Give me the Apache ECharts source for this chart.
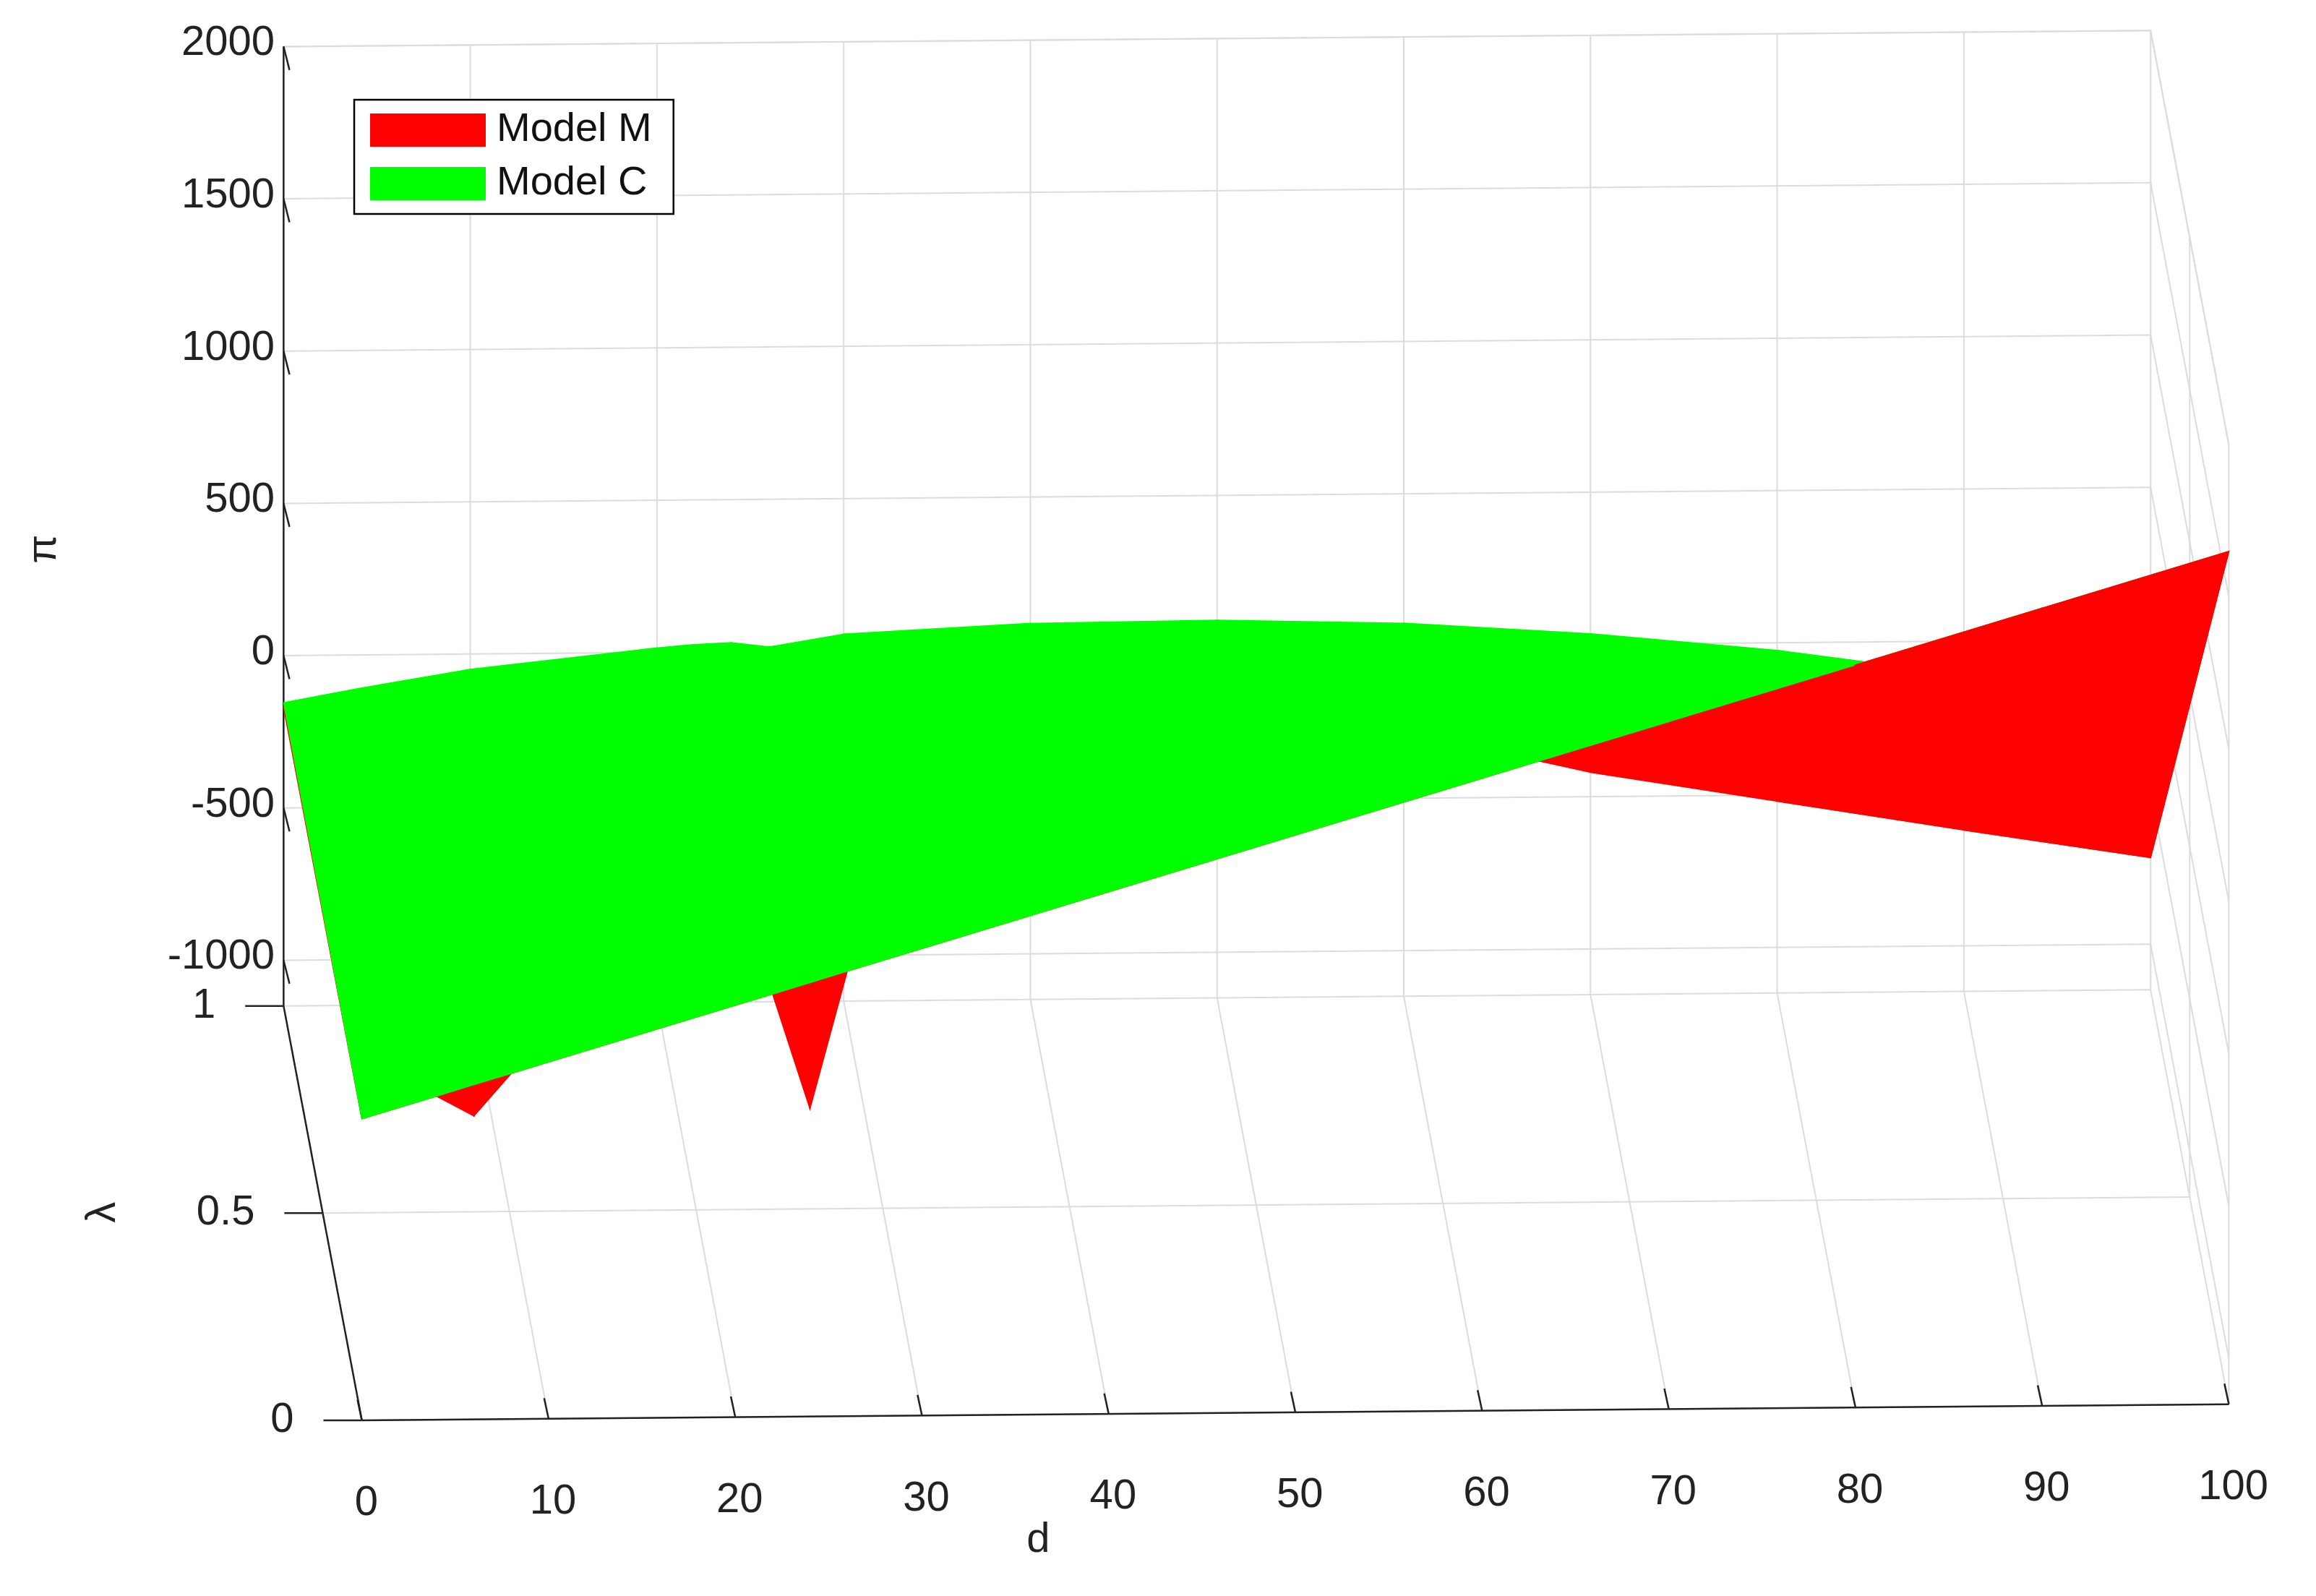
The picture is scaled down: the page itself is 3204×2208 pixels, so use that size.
<!DOCTYPE html>
<html>
<head>
<meta charset="utf-8">
<script src="https://cdn.jsdelivr.net/npm/echarts@6/dist/echarts.min.js"></script>
<style>html,body{margin:0;padding:0;background:#fff}#chart{width:3204px;height:2208px}</style>
</head>
<body>
<div id="chart"></div>
<script>
// data
var dGrid = [0, 4, 6, 8, 10, 20, 22, 24, 26, 30, 40, 50, 60, 70, 80, 90, 100];
var greenFront = [-160, -88, -51, -15, 21, 202, 238, 274, 311, 383, 564, 745, 926, 1107, 1288, 1469, 1650];
var greenBack = [-154, -110, -90, -70, -50, 15, 25, 30, 15, 55, 85, 90, 75, 35, -25, -110, -220];
var redFront = [-160, -88, -154, -15, 21, 202, 238, -140, 311, 383, 564, 745, 926, 1107, 1288, 1469, 1650];
var redBack = [-170, -120, -100, -80, -60, 0, 5, 10, 15, 30, 40, -60, -280, -420, -520, -620, -716];
var dTicks = [0, 10, 20, 30, 40, 50, 60, 70, 80, 90, 100];
var lTicks = [0, 0.5, 1];
var zTicks = [-1000, -500, 0, 500, 1000, 1500, 2000];
var zMin = -1150, zMax = 2000;

// simple orthographic view like the original
function P(d, l, z) {
    return [192 + 12.64 * d + 53 * (1 - l),
            687 - 0.11 * d + 283 * (1 - l) - (z - zMin) * 0.208];
}

var segs = [];
var texts = [];
var grey = '#dcdcdc';
// back wall
dTicks.forEach(function (d) { segs.push([P(d, 1, zMin), P(d, 1, zMax), grey, 2]); });
zTicks.forEach(function (z) { segs.push([P(0, 1, z), P(100, 1, z), grey, 2]); });
// floor
dTicks.forEach(function (d) { segs.push([P(d, 0, zMin), P(d, 1, zMin), grey, 2]); });
lTicks.forEach(function (l) { segs.push([P(0, l, zMin), P(100, l, zMin), grey, 2]); });
// right wall
lTicks.forEach(function (l) { segs.push([P(100, l, zMin), P(100, l, zMax), grey, 2]); });
zTicks.forEach(function (z) { segs.push([P(100, 0, z), P(100, 1, z), grey, 2]); });
segs.push([P(0, 1, zMax), P(100, 1, zMax), grey, 2]);
segs.push([P(100, 0, zMax), P(100, 1, zMax), grey, 2]);
// axes
segs.push([P(0, 1, zMin), P(0, 1, zMax), '#222', 2.5]);
segs.push([P(0, 0, zMin), P(100, 0, zMin), '#222', 2.5]);
segs.push([P(0, 0, zMin), P(0, 1, zMin), '#222', 2.5]);
zTicks.forEach(function (z) {
    var p = P(0, 1, z);
    segs.push([p, [p[0] + 4, p[1] + 16], '#222', 2.5]);
    texts.push([p[0] - 6, p[1] - 2, String(z), 'right', 0]);
});
dTicks.forEach(function (d) {
    var p = P(d, 0, zMin);
    segs.push([p, [p[0] - 3, p[1] - 14], '#222', 2.5]);
    texts.push([p[0] + 3, p[1] + 57, String(d), 'center', 0]);
});
lTicks.forEach(function (l) {
    var p = P(0, l, zMin);
    segs.push([p, [p[0] - 26, p[1]], '#222', 2.5]);
    texts.push([p[0] - 46, p[1], String(l), 'right', 0]);
});
texts.push([30, 375, 'π', 'center', Math.PI / 2]);
texts.push([70, 828, 'λ', 'center', Math.PI / 2]);
texts.push([703, 1052, 'd', 'center', 0]);

function surface(front, back, from, to, color) {
    var idx = [];
    for (var i = from; i < to; i++) idx.push([i, 0]);
    return {
        type: 'custom', name: color === '#ff0000' ? 'Model M' : 'Model C',
        itemStyle: {color: color}, data: idx, clip: false, z: 3,
        renderItem: function (params, api) {
            var i = api.value(0);
            var pts = [P(dGrid[i], 0, front[i]), P(dGrid[i + 1], 0, front[i + 1]),
                       P(dGrid[i + 1], 1, back[i + 1]), P(dGrid[i], 1, back[i])].map(function (p) { return api.coord(p); });
            return {type: 'polygon', shape: {points: pts}, style: {fill: color, stroke: color, lineWidth: 1.5}};
        }
    };
}

var myChart = echarts.init(document.getElementById('chart'));
var option = {
    animation: false,
    backgroundColor: '#fff',
    grid: {left: 0, right: 0, top: 0, bottom: 0},
    xAxis: {type: 'value', min: 0, max: 1568, show: false},
    yAxis: {type: 'value', min: 0, max: 1090, inverse: true, show: false},
    legend: {
        orient: 'vertical', left: 490, top: 138, itemWidth: 160, itemHeight: 46, itemGap: 18,
        borderColor: '#000', borderWidth: 2.5, padding: [14, 30, 14, 22], backgroundColor: '#fff',
        textStyle: {fontSize: 56, color: '#111', fontFamily: 'Liberation Sans', padding: [0, 0, 0, 10]},
        data: [{name: 'Model M', icon: 'rect'}, {name: 'Model C', icon: 'rect'}]
    },
    series: [
        {
            type: 'custom', silent: true, clip: false, z: 1,
            data: segs.map(function (s, i) { return [i, 0]; }),
            renderItem: function (params, api) {
                var s = segs[params.dataIndex];
                var a = api.coord(s[0]), b = api.coord(s[1]);
                return {type: 'line', shape: {x1: a[0], y1: a[1], x2: b[0], y2: b[1]}, style: {stroke: s[2], lineWidth: s[3]}};
            }
        },
        {
            type: 'custom', silent: true, clip: false, z: 1,
            data: texts.map(function (s, i) { return [i, 0]; }),
            renderItem: function (params, api) {
                var t = texts[params.dataIndex];
                var p = api.coord([t[0], t[1]]);
                return {type: 'text', x: p[0], y: p[1], rotation: t[4],
                    style: {text: t[2], textAlign: t[3], textVerticalAlign: 'middle', fontSize: 58,
                        fontFamily: 'Liberation Sans', fill: '#222'}};
            }
        },
        surface(redFront, redBack, 0, dGrid.length - 1, '#ff0000'),
        surface(greenFront, greenBack, 0, dGrid.length - 1, '#00ff00'),
        surface(redFront, redBack, 14, dGrid.length - 1, '#ff0000')
    ]
};
myChart.setOption(option);
</script>
</body>
</html>
